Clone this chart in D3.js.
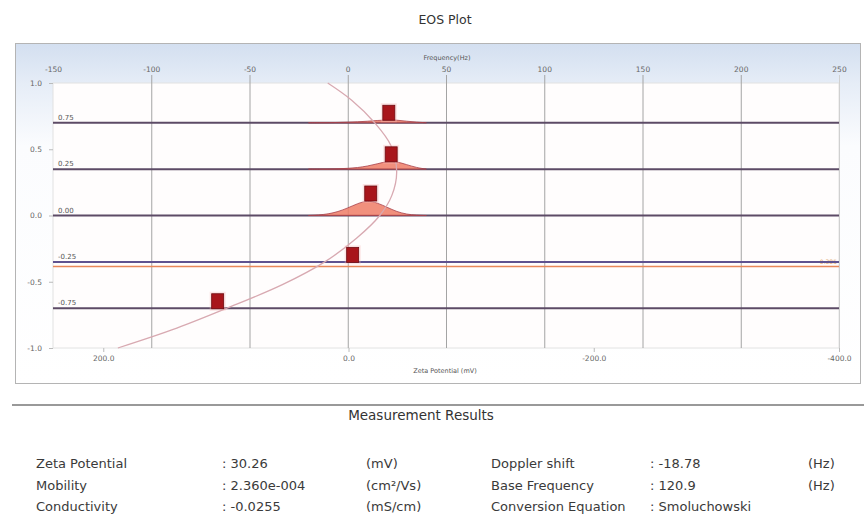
<!DOCTYPE html>
<html>
<head>
<meta charset="utf-8">
<script src="https://cdn.jsdelivr.net/npm/d3@7"></script>
<style>
  body { margin: 0; background: #fff; }
  text { font-family: "DejaVu Sans", sans-serif; }
  .axis path { display: none; }
</style>
</head>
<body>
<svg width="864" height="516"></svg>
<script>
// frequency axis (top) and zeta axis (bottom)
var freqTicks = [-150, -100, -50, 0, 50, 100, 150, 200, 250];
var zetaTicks = [200, 0, -200, -400];
var yTicks = [1.0, 0.5, 0.0, -0.5, -1.0];

// rows of the EOS plot (cell depth) and where they sit on the y axis
var rowLabels = ["0.75", "0.25", "0.00", "-0.25", "-0.75"];
var rowLevels = [0.70, 0.35, 0.0, -0.35, -0.70];
var markerFreq = [20.9, 22.1, 11.7, 2.5, -66.2];
var stationaryLevel = -0.385;
var stationaryLabel = "-0.385";

// spectra, intensity at each frequency
var peakFreq = [-20, -15, -10, -5, 0, 5, 10, 15, 20, 25, 30, 35, 40];
var peak075 = [0, 0, 0, 0.02, 0.04, 0.06, 0.1, 0.15, 0.2, 0.18, 0.1, 0.04, 0];
var peak025 = [0, 0, 0, 0.02, 0.05, 0.1, 0.2, 0.35, 0.52, 0.5, 0.3, 0.1, 0];
var peak000 = [0, 0.03, 0.1, 0.25, 0.5, 0.8, 1.0, 0.85, 0.55, 0.25, 0.08, 0.02, 0];
var peaks = [peak075, peak025, peak000, null, null];

// fitted profile
var curvePos = [1.0, 0.87, 0.70, 0.53, 0.33, 0.15, 0.0, -0.17, -0.35, -0.52, -0.70, -0.85, -1.0];
var curveFreq = [-10.2, 2, 13.7, 21.9, 24.9, 22.4, 16.3, 4.6, -11.7, -33, -61.5, -87, -117];

// measurement results
var leftNames = ["Zeta Potential", "Mobility", "Conductivity"];
var leftValues = ["30.26", "2.360e-004", "-0.0255"];
var leftUnits = ["(mV)", "(cm\u00b2/Vs)", "(mS/cm)"];
var rightNames = ["Doppler shift", "Base Frequency", "Conversion Equation"];
var rightValues = ["-18.78", "120.9", "Smoluchowski"];
var rightUnits = ["(Hz)", "(Hz)", ""];

var svg = d3.select("svg");
var pLeft = 53, pRight = 839, pTop = 83, pBottom = 348;

var x = d3.scaleLinear().domain([-150, 250]).range([pLeft, pRight]);
var z = d3.scaleLinear().domain([241, -400]).range([pLeft, pRight]);
var y = d3.scaleLinear().domain([-1, 1]).range([pBottom, pTop]);
var h = d3.scaleLinear().domain([0, 1]).range([0, 15]);

var defs = svg.append("defs");
var grad = defs.append("linearGradient").attr("id", "bg")
    .attr("x1", 0).attr("y1", 0).attr("x2", 0).attr("y2", 1);
grad.append("stop").attr("offset", "0%").attr("stop-color", "#d3dff0");
grad.append("stop").attr("offset", "12%").attr("stop-color", "#e6edf7");
grad.append("stop").attr("offset", "30%").attr("stop-color", "#fbfcfe");
grad.append("stop").attr("offset", "100%").attr("stop-color", "#ffffff");

svg.append("text")
    .attr("x", 445).attr("y", 24)
    .attr("text-anchor", "middle")
    .style("font-size", "12.5px").style("fill", "#333")
    .text("EOS Plot");

// frame
svg.append("rect")
    .attr("x", 15.5).attr("y", 43.5).attr("width", 845).attr("height", 340)
    .attr("fill", "url(#bg)").attr("stroke", "#b4b4b4");
svg.append("rect")
    .attr("x", pLeft).attr("y", pTop).attr("width", pRight - pLeft).attr("height", pBottom - pTop)
    .attr("fill", "#fffdfd").attr("stroke", "#e2e2e2");

// top axis with gridlines
var topAxis = svg.append("g").attr("class", "axis")
    .attr("transform", "translate(0,75)")
    .call(d3.axisTop(x).tickValues(freqTicks).tickSize(-(pBottom - 75)).tickPadding(3)
        .tickFormat(function(d) { return String(d); }));
topAxis.selectAll("line").attr("stroke", function(d) {
    return (d == -150) ? "none" : (d == 250 ? "#d0d0d0" : "#a4a4a4");
});
topAxis.selectAll("text").style("font-size", "7.5px").style("fill", "#666");

svg.append("text")
    .attr("x", 447).attr("y", 60)
    .attr("text-anchor", "middle")
    .style("font-size", "6.5px").style("fill", "#555")
    .text("Frequency(Hz)");

// left axis
var leftAxis = svg.append("g").attr("class", "axis")
    .attr("transform", "translate(" + pLeft + ",0)")
    .call(d3.axisLeft(y).tickValues(yTicks).tickSize(4).tickPadding(7)
        .tickFormat(function(d) { return d.toFixed(1); }));
leftAxis.selectAll("line").attr("stroke", "#bbb");
leftAxis.selectAll("text").style("font-size", "7.5px").style("fill", "#666");

// bottom zeta axis
var botAxis = svg.append("g").attr("class", "axis")
    .attr("transform", "translate(0," + pBottom + ")")
    .call(d3.axisBottom(z).tickValues(zetaTicks).tickSize(4).tickPadding(4)
        .tickFormat(function(d) { return d.toFixed(1); }));
botAxis.selectAll("line").attr("stroke", "#bbb");
botAxis.selectAll("text").style("font-size", "7.5px").style("fill", "#666");

svg.append("text")
    .attr("x", 445).attr("y", 373)
    .attr("text-anchor", "middle")
    .style("font-size", "6.5px").style("fill", "#555")
    .text("Zeta Potential (mV)");

// stationary layer
svg.append("line")
    .attr("x1", pLeft).attr("x2", pRight)
    .attr("y1", y(stationaryLevel)).attr("y2", y(stationaryLevel))
    .attr("stroke", "#e8875a").attr("stroke-width", 1.5);
svg.append("text")
    .attr("x", pRight - 2).attr("y", y(stationaryLevel) - 3)
    .attr("text-anchor", "end")
    .style("font-size", "6px").style("fill", "#e0a064")
    .text(stationaryLabel);

// row baselines
var rows = svg.selectAll(".row")
    .data(rowLevels)
    .enter().append("g")
    .attr("class", "row");

rows.append("line")
    .attr("x1", pLeft).attr("x2", pRight)
    .attr("y1", function(d) { return y(d); })
    .attr("y2", function(d) { return y(d); })
    .attr("stroke", function(d, i) { return i == 3 ? "#5e5290" : "#5d4b66"; })
    .attr("stroke-width", 2);

rows.append("text")
    .attr("x", pLeft + 5)
    .attr("y", function(d) { return y(d) - 3; })
    .style("font-size", "7px").style("fill", "#555")
    .text(function(d, i) { return rowLabels[i]; });

// spectra
peaks.forEach(function(p, i) {
    if (!p) return;
    var base = y(rowLevels[i]);
    var area = d3.area()
        .x(function(d, j) { return x(peakFreq[j]); })
        .y0(base)
        .y1(function(d) { return base - h(d); })
        .curve(d3.curveBasis);
    svg.append("path")
        .datum(p)
        .attr("d", area)
        .attr("fill", "#ee7d66").attr("fill-opacity", 0.85)
        .attr("stroke", "#a8404a").attr("stroke-width", 0.8);
});

// fitted profile
var curve = d3.line()
    .x(function(d, i) { return x(curveFreq[i]); })
    .y(function(d) { return y(d); })
    .curve(d3.curveCatmullRom);
svg.append("path")
    .datum(curvePos)
    .attr("d", curve)
    .attr("fill", "none")
    .attr("stroke", "#d8a9b1").attr("stroke-width", 1.3);

// peak markers
markerFreq.forEach(function(f, i) {
    var p = peaks[i];
    var my = y(rowLevels[i]) - 7 - (p ? h(d3.max(p)) : 0);
    svg.append("rect")
        .attr("x", x(f) - 8).attr("y", my - 9.5)
        .attr("width", 16).attr("height", 19)
        .attr("fill", "#f6b8b8").attr("opacity", 0.35);
    svg.append("rect")
        .attr("x", x(f) - 6).attr("y", my - 7.5)
        .attr("width", 12).attr("height", 15)
        .attr("fill", "#a8151b").attr("stroke", "#6e0a10").attr("stroke-width", 0.8);
});

// measurement results
svg.append("line")
    .attr("x1", 12).attr("x2", 864).attr("y1", 405).attr("y2", 405)
    .attr("stroke", "#777").attr("stroke-width", 1.5);
svg.append("text")
    .attr("x", 421).attr("y", 420)
    .attr("text-anchor", "middle")
    .style("font-size", "13.5px").style("fill", "#333")
    .text("Measurement Results");

var rowY = [468, 490, 511];
function column(names, values, units, xName, xVal, xUnit) {
    names.forEach(function(n, i) {
        svg.append("text").attr("x", xName).attr("y", rowY[i])
            .style("font-size", "13px").style("fill", "#3a3a3a").text(n);
        svg.append("text").attr("x", xVal).attr("y", rowY[i])
            .style("font-size", "13px").style("fill", "#3a3a3a")
            .text(":  " + values[i]);
        if (units[i]) svg.append("text").attr("x", xUnit).attr("y", rowY[i])
            .style("font-size", "13px").style("fill", "#3a3a3a").text(units[i]);
    });
}
column(leftNames, leftValues, leftUnits, 36, 222, 366);
column(rightNames, rightValues, rightUnits, 491, 650, 808);
</script>
</body>
</html>
